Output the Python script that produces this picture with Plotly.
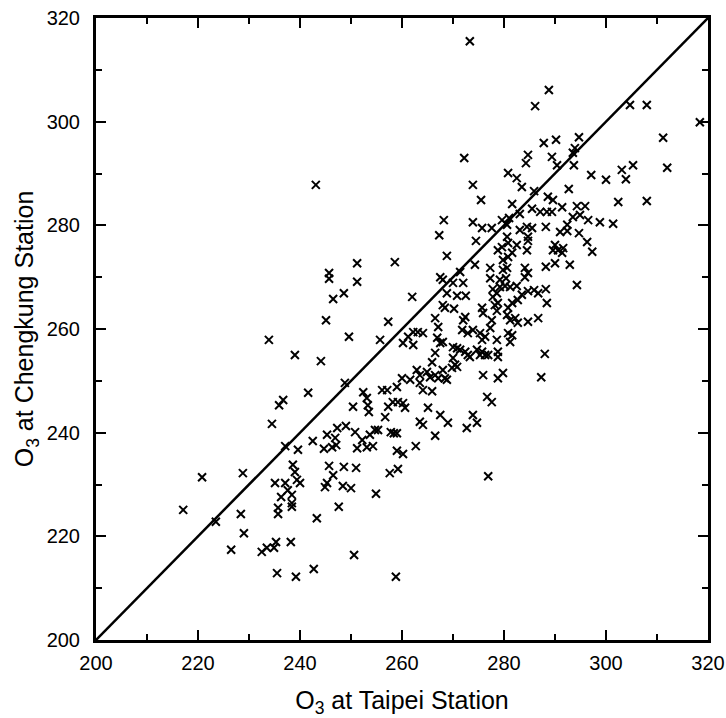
import plotly.graph_objects as go

# O3 at Taipei Station (x) and O3 at Chengkung Station (y)
taipei = [
    273.3, 288.8, 286.1, 304.7, 308.0, 318.4, 311.2, 312.0, 294.7, 293.9,
    293.5, 290.2, 287.8, 284.7, 284.3, 289.4, 290.4, 293.7, 272.2, 305.3,
    303.1, 303.9, 297.1, 300.0, 280.8, 282.5, 283.5, 285.9, 288.6, 289.6,
    292.7, 273.9, 275.5, 302.4, 308.0, 281.6, 285.5, 287.1, 288.4, 289.4,
    291.4, 294.3, 295.9, 268.2, 273.9, 275.7, 277.6, 279.6, 281.0, 280.6,
    283.1, 293.5, 294.9, 296.5, 298.8, 301.4, 283.1, 284.5, 285.5, 284.7,
    284.7, 288.2, 292.4, 291.0, 292.4, 294.7, 296.3, 297.3, 274.5, 267.3,
    268.8, 278.8, 279.6, 279.8, 280.8, 281.6, 282.5, 284.5, 290.0, 289.6,
    290.6, 291.6, 291.4, 258.6, 274.3, 277.3, 277.3, 279.8, 280.6, 284.1,
    284.7, 284.1, 288.2, 290.0, 292.9, 280.6, 280.8, 267.5, 268.0, 271.4,
    270.0, 272.0, 268.8, 270.8, 272.5, 279.2, 280.4, 279.2, 280.2, 281.2,
    282.5, 294.3, 262.0, 277.8, 278.6, 277.8, 278.8, 284.7, 285.9, 286.7,
    288.2, 288.4, 278.2, 278.6, 280.8, 281.6, 282.7, 283.5, 286.7, 284.7,
    280.6, 281.2, 282.2, 282.7, 277.6, 277.3, 275.3, 275.7, 276.3, 278.6,
    280.8, 281.6, 281.2, 266.5, 267.1, 272.0, 272.4, 271.8, 272.9, 273.9,
    266.9, 268.0, 267.5, 270.0, 270.8, 271.4, 272.4, 272.9, 273.3, 274.7,
    275.7, 276.3, 276.9, 275.3, 278.8, 278.8, 266.5, 265.9, 270.0, 270.4,
    269.8, 270.8, 268.0, 264.9, 265.5, 266.5, 267.1, 268.4, 268.8, 263.5,
    264.1, 265.9, 275.9, 278.8, 279.8, 288.0, 287.3, 276.7, 277.6, 265.1,
    267.5, 269.0, 273.9, 274.7, 272.7, 276.9, 251.2, 251.2, 245.7, 245.7,
    246.5, 248.6, 245.1, 257.3, 233.9, 249.6, 255.7, 239.0, 244.1, 248.8,
    241.6, 235.9, 236.7, 234.5, 220.8, 228.8, 237.1, 239.6, 242.5, 245.3,
    247.3, 249.0, 246.9, 247.1, 246.3, 244.7, 250.8, 252.2, 251.2, 253.1,
    254.3, 253.7, 254.7, 255.3, 257.8, 258.4, 259.0, 256.7, 259.0, 260.2,
    262.7, 266.5, 263.5, 264.1, 245.7, 246.5, 245.3, 244.9, 248.6, 251.0,
    257.6, 259.2, 252.4, 253.1, 253.3, 253.5, 250.4, 256.1, 257.1, 259.0,
    260.0, 261.6, 257.3, 258.2, 259.2, 260.2, 260.6, 262.9, 263.5, 268.0,
    268.4, 270.2, 275.7, 275.9, 262.2, 263.1, 264.1, 260.2, 262.2, 261.2,
    247.6, 243.3, 254.9, 248.4, 250.0, 217.1, 223.5, 228.4, 229.0, 226.5,
    232.5, 233.5, 234.9, 235.3, 238.2, 235.5, 239.2, 242.7, 250.6, 258.8,
    235.1, 237.1, 237.6, 238.6, 239.0, 239.4, 240.0, 238.4, 238.4, 238.4,
    236.3, 235.7, 235.7, 243.1,
]

chengkung = [
    315.5, 306.1, 303.0, 303.2, 303.2, 299.9, 296.9, 291.1, 297.0, 294.9,
    294.0, 296.5, 295.9, 293.6, 292.0, 293.2, 291.6, 291.6, 293.0, 291.6,
    290.7, 288.9, 289.7, 288.8, 290.1, 289.1, 287.4, 286.6, 285.5, 284.9,
    287.0, 287.8, 284.9, 284.5, 284.7, 284.1, 283.2, 282.6, 282.6, 282.6,
    283.5, 283.7, 283.7, 281.0, 280.6, 279.5, 279.5, 281.0, 281.4, 280.1,
    282.2, 281.6, 282.0, 281.0, 280.6, 280.3, 279.1, 279.7, 279.5, 277.8,
    277.0, 279.7, 280.1, 278.7, 278.9, 278.5, 276.8, 274.9, 277.0, 278.1,
    274.1, 275.2, 275.8, 273.3, 273.9, 274.7, 276.2, 275.2, 276.2, 275.2,
    275.2, 275.6, 274.7, 272.9, 272.4, 271.8, 269.8, 271.4, 271.8, 271.8,
    270.8, 270.0, 272.0, 272.7, 272.4, 277.8, 276.6, 270.0, 269.5, 271.0,
    268.9, 268.9, 266.9, 266.4, 266.4, 269.5, 269.8, 268.1, 268.3, 268.1,
    268.3, 268.5, 266.2, 267.7, 266.9, 266.2, 265.0, 267.3, 267.5, 266.9,
    267.7, 265.0, 264.6, 263.5, 264.1, 265.0, 265.6, 266.6, 262.1, 261.4,
    262.7, 261.7, 262.1, 261.2, 261.7, 260.2, 259.2, 257.9, 258.5, 257.9,
    259.2, 258.8, 257.5, 262.1, 260.4, 261.7, 262.3, 259.8, 259.2, 259.8,
    258.3, 257.5, 257.3, 256.5, 256.3, 256.0, 255.6, 255.0, 254.6, 256.0,
    255.6, 255.0, 255.0, 255.0, 255.6, 254.6, 255.4, 253.6, 254.4, 253.1,
    252.5, 252.7, 252.1, 251.7, 250.7, 251.1, 250.5, 250.5, 250.2, 249.6,
    248.2, 248.0, 251.1, 250.5, 251.5, 255.2, 250.7, 246.9, 245.9, 244.8,
    243.4, 241.9, 243.4, 241.9, 240.9, 231.6, 272.7, 269.1, 270.8, 269.7,
    265.8, 266.9, 261.7, 261.4, 257.9, 258.5, 257.9, 255.0, 253.8, 249.6,
    247.7, 245.3, 246.3, 241.7, 231.4, 232.2, 237.4, 236.7, 238.4, 239.6,
    240.9, 241.3, 239.0, 237.6, 237.2, 236.9, 240.1, 238.6, 237.0, 237.2,
    237.4, 239.6, 240.5, 240.5, 240.1, 239.9, 239.9, 243.0, 236.5, 235.9,
    237.4, 239.4, 242.1, 241.5, 233.6, 231.8, 230.3, 229.5, 233.4, 233.2,
    232.2, 233.0, 247.8, 246.7, 245.3, 244.0, 245.0, 248.2, 248.2, 248.8,
    250.5, 250.2, 245.0, 245.9, 245.9, 245.7, 244.8, 252.1, 251.1, 264.6,
    264.1, 263.9, 264.1, 263.1, 259.4, 259.4, 259.2, 257.3, 256.9, 258.5,
    225.7, 223.5, 228.2, 229.7, 229.3, 225.1, 222.8, 224.3, 220.6, 217.4,
    217.0, 217.8, 217.8, 218.9, 218.9, 212.9, 212.2, 213.7, 216.4, 212.2,
    230.3, 230.3, 228.9, 233.8, 232.4, 230.9, 230.3, 228.0, 226.4, 225.7,
    227.6, 225.5, 224.3, 287.8,
]

assert len(taipei) == len(chengkung)

# 1:1 reference line
one_to_one = [200, 320]

fig = go.Figure()
fig.add_trace(go.Scatter(
    x=one_to_one, y=one_to_one, mode="lines",
    line=dict(color="black", width=2.5), hoverinfo="skip",
))
fig.add_trace(go.Scatter(
    x=taipei, y=chengkung, mode="markers",
    marker=dict(symbol="x-thin", size=8, color="black",
                line=dict(color="black", width=2)),
))

axis_style = dict(
    range=[200, 320],
    tickmode="linear", tick0=200, dtick=20,
    ticks="inside", ticklen=10, tickwidth=2, tickcolor="black",
    showline=True, linecolor="black", linewidth=3,
    mirror="allticks", showgrid=False, zeroline=False,
    tickfont=dict(size=20, color="black",
                  family="Liberation Sans, Arial, Helvetica, sans-serif"),
    minor=dict(tick0=200, dtick=10, ticks="inside",
               ticklen=6, tickwidth=2, tickcolor="black", showgrid=False),
)

fig.update_xaxes(**axis_style, ticklabelstandoff=3,
                 title=dict(text="O<sub>3</sub> at Taipei Station",
                            font=dict(size=25, color="black"), standoff=20))
fig.update_yaxes(**axis_style, ticklabelstandoff=9,
                 title=dict(text="O<sub>3</sub> at Chengkung Station",
                            font=dict(size=25, color="black"), standoff=6))

fig.update_layout(
    width=726, height=718,
    margin=dict(l=96, r=18, t=18, b=78, autoexpand=False),
    paper_bgcolor="white", plot_bgcolor="white",
    showlegend=False,
    font=dict(family="Liberation Sans, Arial, Helvetica, sans-serif", color="black"),
)

# remove the page's default body margin so the figure fills the window exactly
fig.write_html(
    "out.html",
    config={"displayModeBar": False},
    post_script="document.body.style.margin='0';document.body.style.overflow='hidden';",
)
